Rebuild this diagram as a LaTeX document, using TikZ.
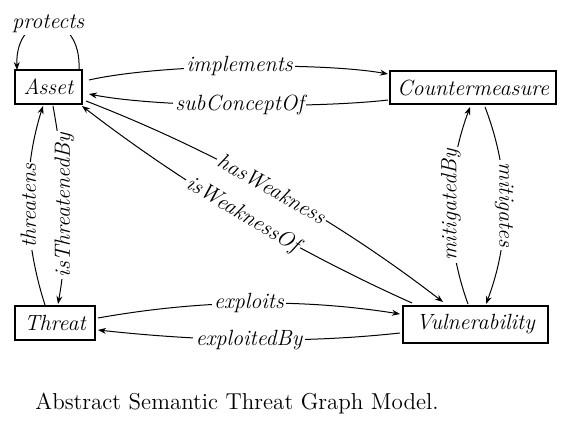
\documentclass[tikz,border=0pt]{standalone}
\usetikzlibrary{arrows.meta,calc}
\begin{document}
\begin{tikzpicture}[x=0.5pt,y=-0.5pt,
  box/.style={draw,line width=0.7pt,inner sep=0pt,font=\fontsize{11}{13}\selectfont\itshape},
  rel/.style={line width=0.5pt,-{Stealth[length=4pt,width=3pt]}},
  lbl/.style={fill=white,inner sep=1.2pt,font=\fontsize{11}{13}\selectfont\itshape}]
\useasboundingbox (0,0) rectangle (565,432);
\node[box,minimum width=33.5pt,minimum height=17pt] (asset) at (48.5,87) {Asset};
\node[box,minimum width=83pt,minimum height=16.5pt] (counter) at (473,87.5) {Countermeasure};
\node[box,minimum width=40pt,minimum height=17pt] (threat) at (55,323) {Threat};
\node[box,minimum width=72.5pt,minimum height=18.5pt] (vuln) at (475.5,324.5) {Vulnerability};
% protects
\draw[rel] ($(asset.center)+(30.5,-17)$) .. controls +(3,-62) and +(-2,-62) .. ($(asset.center)+(-31.5,-17)$)
  node[lbl,pos=0.5] {protects};
% implements / subConceptOf
\draw[rel] ($(asset.center)+(40.5,-7)$) .. controls +(71,-16) and +(-68,-12) .. ($(counter.center)+(-85,-13.5)$)
  node[lbl,pos=0.5] {implements};
\draw[rel] ($(counter.center)+(-85,12.5)$) .. controls +(-68,8) and +(71,14) .. ($(asset.center)+(40.5,7)$)
  node[lbl,pos=0.5] {subConceptOf};
% hasWeakness / isWeaknessOf
\draw[rel] ($(asset.center)+(37.5,14)$) .. controls +(129,50) and +(-109,-84) .. ($(vuln.center)+(-32.5,-22.5)$)
  node[lbl,pos=0.5,sloped] {hasWeakness};
\draw[rel] ($(vuln.center)+(-63.5,-21.5)$) .. controls +(-116,-52) and +(104,80) .. ($(asset.center)+(33.5,19)$)
  node[lbl,pos=0.5,sloped] {isWeaknessOf};
% threatens / isThreatenedBy
\draw[rel] ($(threat.center)+(-10,-18)$) .. controls +(-21,-65) and +(-21,66) .. ($(asset.center)+(-5.5,19)$)
  node[lbl,pos=0.5,rotate=90] {threatens};
\draw[rel] ($(asset.center)+(4.5,19)$) .. controls +(12,66) and +(12,-66) .. ($(threat.center)+(3,-19)$)
  node[lbl,pos=0.5,rotate=90] {isThreatenedBy};
% mitigatedBy / mitigates
\draw[rel] ($(vuln.center)+(-7.5,-20.5)$) .. controls +(-24,-66) and +(-24,65) .. ($(counter.center)+(-3,19.5)$)
  node[lbl,pos=0.5,rotate=90] {mitigatedBy};
\draw[rel] ($(counter.center)+(12,19.5)$) .. controls +(25,65) and +(25,-66) .. ($(vuln.center)+(10.5,-20.5)$)
  node[lbl,pos=0.5,rotate=-90] {mitigates};
% exploits / exploitedBy
\draw[rel] ($(threat.center)+(43,-5)$) .. controls +(101,-18) and +(-101,-16) .. ($(vuln.center)+(-75.5,-10.5)$)
  node[lbl,pos=0.5] {exploits};
\draw[rel] ($(vuln.center)+(-75.5,8.5)$) .. controls +(-101,11) and +(101,11) .. ($(threat.center)+(43,7)$)
  node[lbl,pos=0.5] {exploitedBy};
% caption
\node[anchor=west,inner sep=0pt,font=\fontsize{11.5}{14}\selectfont] (caption) at (35,404) {Abstract Semantic Threat Graph Model.};
\end{tikzpicture}
\end{document}
